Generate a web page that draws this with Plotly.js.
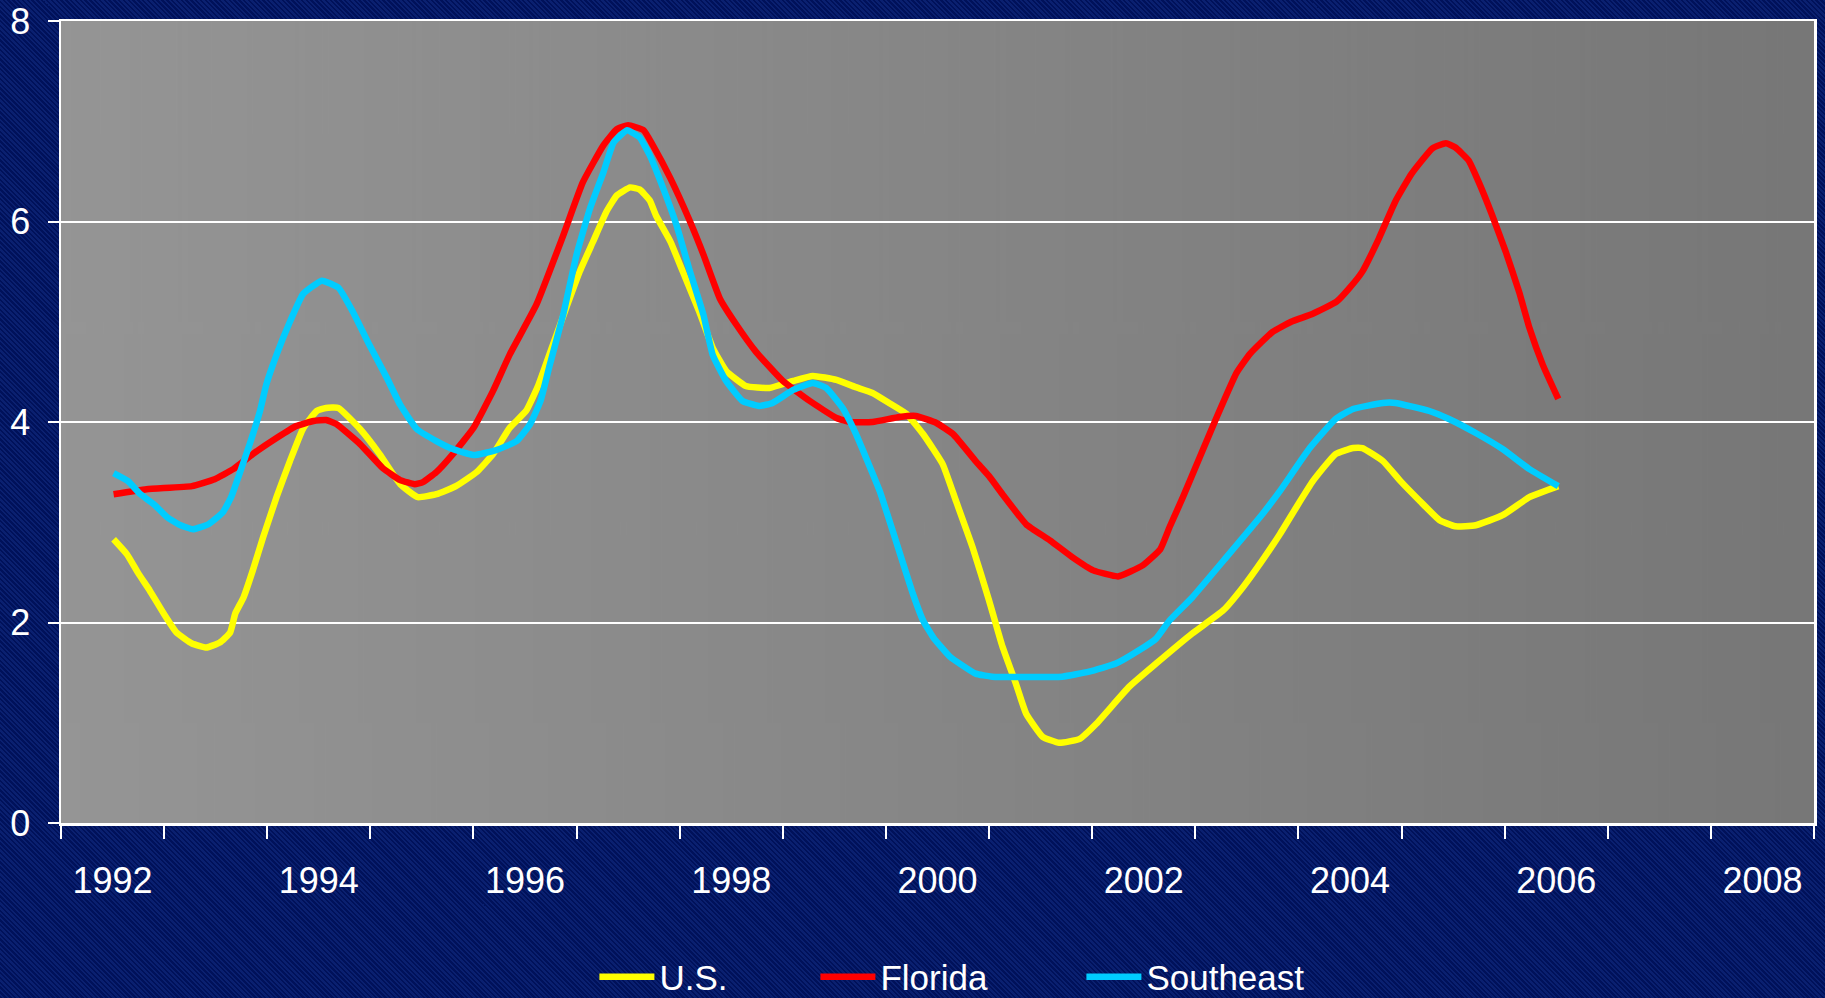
<!DOCTYPE html>
<html><head><meta charset="utf-8">
<script src="https://cdn.plot.ly/plotly-3.0.1.min.js"></script>
<style>
html,body{margin:0;padding:0;width:1825px;height:998px;overflow:hidden;
background: repeating-linear-gradient(45deg,#00115a 0px,#00115a 1.7px,#0a2070 1.7px,#0a2070 3.4px);}
#chart{width:1825px;height:998px;}
</style></head><body><div id="chart"></div>
<script>
// Series names
const seriesNames = ["U.S.", "Florida", "Southeast"];
const seriesColors = ["#FFFF00", "#FF0000", "#00CCFF"];

// U.S.
const usYears = [1992.01,1992.14,1992.25,1992.36,1992.49,1992.62,1992.77,1992.91,1993.04,1993.14,1993.19,1993.27,1993.36,1993.46,1993.59,1993.72,1993.85,1993.98,1994.07,1994.19,1994.40,1994.59,1994.79,1994.96,1995.14,1995.33,1995.53,1995.69,1995.85,1996.01,1996.13,1996.27,1996.40,1996.53,1996.66,1996.79,1996.89,1997.02,1997.11,1997.21,1997.27,1997.41,1997.53,1997.69,1997.82,1997.95,1998.14,1998.37,1998.60,1998.79,1999.02,1999.20,1999.37,1999.53,1999.70,1999.86,2000.05,2000.18,2000.34,2000.50,2000.63,2000.76,2000.86,2001.02,2001.18,2001.38,2001.54,2001.86,2002.12,2002.47,2002.77,2002.96,2003.15,2003.32,2003.48,2003.64,2003.86,2004.03,2004.12,2004.32,2004.49,2004.68,2004.87,2005.02,2005.22,2005.48,2005.74,2006.02];
const usValues = [2.83,2.68,2.49,2.32,2.10,1.90,1.79,1.75,1.80,1.90,2.09,2.25,2.52,2.85,3.25,3.61,3.94,4.11,4.14,4.14,3.93,3.68,3.38,3.25,3.28,3.36,3.50,3.68,3.94,4.11,4.37,4.77,5.14,5.50,5.80,6.10,6.26,6.34,6.32,6.21,6.06,5.80,5.50,5.10,4.74,4.51,4.36,4.34,4.41,4.46,4.42,4.35,4.29,4.19,4.08,3.88,3.58,3.21,2.75,2.22,1.76,1.39,1.09,0.86,0.80,0.84,0.99,1.36,1.59,1.89,2.12,2.35,2.62,2.88,3.15,3.41,3.68,3.74,3.74,3.61,3.41,3.21,3.02,2.96,2.97,3.07,3.25,3.36];

// Florida
const flYears = [1992.01,1992.33,1992.77,1992.99,1993.17,1993.36,1993.59,1993.78,1993.95,1994.07,1994.17,1994.40,1994.62,1994.79,1994.93,1995.01,1995.14,1995.30,1995.50,1995.69,1995.85,1996.11,1996.37,1996.56,1996.76,1996.89,1997.00,1997.15,1997.24,1997.41,1997.60,1997.73,1997.89,1998.05,1998.24,1998.50,1998.76,1999.02,1999.15,1999.37,1999.63,1999.79,1999.99,2000.15,2000.37,2000.50,2000.63,2000.86,2001.09,2001.31,2001.51,2001.75,2001.99,2002.16,2002.25,2002.38,2002.54,2002.70,2002.90,2003.03,2003.25,2003.43,2003.64,2003.87,2003.99,2004.12,2004.28,2004.44,2004.60,2004.80,2004.93,2005.02,2005.15,2005.25,2005.38,2005.51,2005.64,2005.74,2005.87,2006.02];
const flValues = [3.28,3.33,3.36,3.43,3.53,3.68,3.84,3.96,4.01,4.02,3.98,3.78,3.54,3.42,3.38,3.40,3.50,3.68,3.94,4.31,4.67,5.17,5.86,6.39,6.76,6.92,6.96,6.91,6.76,6.43,6.00,5.67,5.23,4.97,4.70,4.41,4.21,4.04,4.00,4.00,4.05,4.06,3.99,3.88,3.61,3.46,3.28,2.98,2.82,2.65,2.52,2.46,2.57,2.73,2.95,3.25,3.64,4.03,4.49,4.68,4.90,5.00,5.08,5.20,5.33,5.50,5.83,6.20,6.48,6.73,6.78,6.74,6.61,6.39,6.06,5.70,5.30,4.94,4.57,4.23];

// Southeast
const seYears = [1992.01,1992.15,1992.27,1992.40,1992.53,1992.66,1992.78,1992.93,1993.07,1993.15,1993.23,1993.33,1993.43,1993.49,1993.59,1993.72,1993.85,1994.03,1994.19,1994.33,1994.49,1994.66,1994.79,1994.95,1995.14,1995.30,1995.50,1995.72,1995.92,1996.05,1996.15,1996.24,1996.37,1996.50,1996.63,1996.76,1996.86,1996.99,1997.11,1997.21,1997.34,1997.47,1997.60,1997.73,1997.82,1997.95,1998.11,1998.27,1998.40,1998.60,1998.79,1998.92,1999.08,1999.21,1999.28,1999.44,1999.57,1999.76,1999.86,1999.96,2000.12,2000.37,2000.53,2001.21,2001.47,2001.73,2001.95,2002.12,2002.25,2002.47,2002.80,2003.15,2003.32,2003.61,2003.86,2004.03,2004.32,2004.44,2004.77,2004.96,2005.22,2005.48,2005.74,2006.02];
const seValues = [3.49,3.41,3.28,3.18,3.05,2.97,2.93,2.98,3.10,3.25,3.48,3.78,4.11,4.37,4.67,5.00,5.28,5.41,5.34,5.10,4.77,4.44,4.17,3.93,3.81,3.73,3.67,3.72,3.81,3.98,4.21,4.57,5.07,5.67,6.13,6.49,6.79,6.91,6.84,6.66,6.33,5.96,5.50,5.07,4.67,4.41,4.21,4.16,4.19,4.32,4.39,4.34,4.14,3.88,3.71,3.31,2.90,2.29,2.02,1.85,1.66,1.49,1.46,1.46,1.51,1.59,1.72,1.84,2.02,2.25,2.65,3.08,3.31,3.74,4.03,4.13,4.19,4.19,4.11,4.03,3.89,3.73,3.53,3.36];

// Axis ticks
const xTickVals = [1992,1994,1996,1998,2000,2002,2004,2006,2008];
const xTickText = ["1992","1994","1996","1998","2000","2002","2004","2006","2008"];
const yTickVals = [0,2,4,6,8];

function gradientURL(){
  const c = document.createElement('canvas');
  c.width = 600; c.height = 4;
  const g = c.getContext('2d');
  const gr = g.createLinearGradient(0,0,600,0);
  gr.addColorStop(0,'#959595');
  gr.addColorStop(1,'#777777');
  g.fillStyle = gr; g.fillRect(0,0,600,4);
  return c.toDataURL('image/png');
}

const xs = [usYears, flYears, seYears];
const ys = [usValues, flValues, seValues];
const legendWidths = [151, 196, 240];
const traces = seriesNames.map((n,i) => ({
  type:'scatter', mode:'lines', name:n, x:xs[i], y:ys[i],
  line:{color:seriesColors[i], width:6.5, shape:'spline', smoothing:0.4},
  legendwidth: legendWidths[i],
  hoverinfo:'skip'
}));

const font = "Liberation Sans, Arial, sans-serif";
const layout = {
  width:1825, height:998,
  paper_bgcolor:'rgba(0,0,0,0)', plot_bgcolor:'rgba(0,0,0,0)',
  margin:{l:61, r:11, t:21, b:175},
  showlegend:true,
  legend:{orientation:'h', xref:'container', yref:'container', x:0.3257, xanchor:'left', y:0.021, yanchor:'middle',
    font:{family:font, size:35, color:'#ffffff'}, bgcolor:'rgba(0,0,0,0)',
    itemwidth:55},
  xaxis:{range:[1991.5,2008.5], tickvals:xTickVals, ticktext:xTickText,
    ticks:'outside', ticklen:13, tickcolor:'rgba(0,0,0,0)', tickwidth:2,
    ticklabelstandoff:11,
    minor:{ticks:'outside', tick0:1991.5, dtick:1, ticklen:13, tickwidth:2, tickcolor:'#ffffff', showgrid:false},
    showgrid:false, zeroline:false, showline:true, linecolor:'#ffffff', linewidth:2.5, mirror:true,
    tickfont:{family:font, size:36, color:'#ffffff'}, fixedrange:true},
  yaxis:{range:[0,8], tickvals:yTickVals, ticks:'outside', ticklen:11, tickwidth:2, tickcolor:'#ffffff',
    ticklabelstandoff:10, ticklabeloverflow:'allow',
    showgrid:true, gridcolor:'#ffffff', gridwidth:2, zeroline:false,
    showline:true, linecolor:'#ffffff', linewidth:2.5, mirror:true,
    tickfont:{family:font, size:36, color:'#ffffff'}, fixedrange:true},
  images:[{source:gradientURL(), xref:'paper', yref:'paper', x:0, y:1, sizex:1, sizey:1,
    sizing:'stretch', xanchor:'left', yanchor:'top', layer:'below'}]
};

Plotly.newPlot('chart', traces, layout, {staticPlot:true, displayModeBar:false});
</script></body></html>
